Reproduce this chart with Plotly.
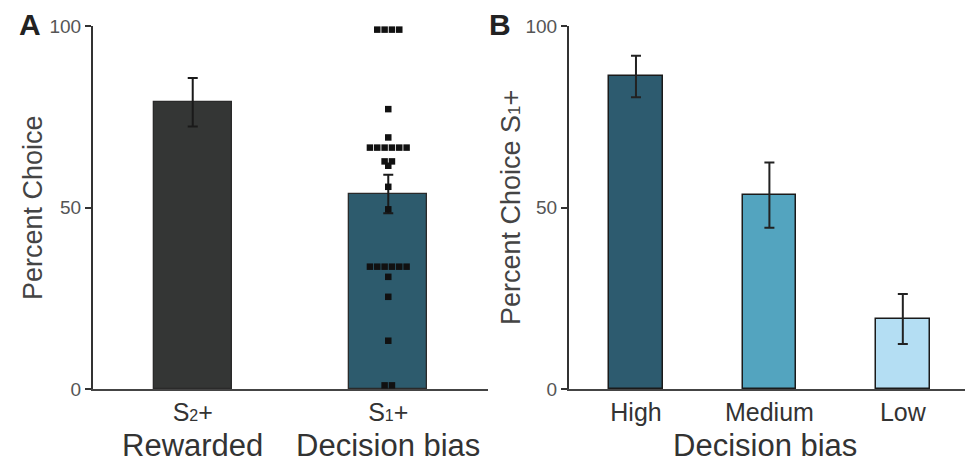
import plotly.graph_objects as go
import numpy as np

# ---------------- data ----------------
a_categories = ["S<span style='font-size:16px'>2</span>+", "S<span style='font-size:16px'>1</span>+"]
a_groups = ["Rewarded", "Decision bias"]
a_means = [79.0, 53.7]
a_errors = [6.7, 5.3]
a_colors = ["#343635", "#2d5b6d"]

# individual points for S1+ (decision bias)
a_points = [99, 99, 99, 99, 77.1, 69.3, 66.5, 66.5, 66.5, 66.5, 66.5, 66.5,
            62.7, 62.7, 61.5, 55.7, 49.5, 33.7, 33.7, 33.7, 33.7, 33.7, 33.7,
            30.9, 25.4, 13.3, 1.0, 1.0]

b_categories = ["High", "Medium", "Low"]
b_means = [86.1, 53.4, 19.3]
b_errors = [5.7, 9.0, 6.9]
b_colors = ["#2d5b6f", "#53a4bf", "#b4def3"]

y_ticks = [0, 50, 100]

# ---------------- layout helpers ----------------
W, H = 965, 462
def px_x(p): return p / W
def px_y(p): return 1 - p / H

FONT = "Liberation Sans, Arial, Helvetica, sans-serif"

fig = go.Figure()

# Panel A bars
fig.add_trace(go.Bar(
    x=[0, 1], y=a_means, width=0.40,
    marker=dict(color=a_colors, line=dict(color="#2a2a2a", width=1.3)),
    error_y=dict(type="data", array=a_errors, color="#1a1a1a", thickness=2, width=5),
    xaxis="x", yaxis="y", showlegend=False,
))

# Beeswarm offsets for points (computed from duplicate values)
pts = np.array(a_points, dtype=float)
spacing = 0.0375
xs = np.zeros_like(pts)
for v in np.unique(pts):
    idx = np.where(pts == v)[0]
    n = len(idx)
    xs[idx] = 1 + (np.arange(n) - (n - 1) / 2) * spacing
fig.add_trace(go.Scatter(
    x=xs, y=pts, mode="markers",
    marker=dict(symbol="square", size=6.5, color="#111111"),
    xaxis="x", yaxis="y", showlegend=False, cliponaxis=False,
))

# Panel B bars
fig.add_trace(go.Bar(
    x=[0, 1, 2], y=b_means, width=0.40,
    marker=dict(color=b_colors, line=dict(color="#1a1a1a", width=1.5)),
    error_y=dict(type="data", array=b_errors, color="#222222", thickness=2, width=5),
    xaxis="x2", yaxis="y2", showlegend=False,
))

y_dom = [px_y(389), px_y(26)]
common_y = dict(
    range=[0, 100], tickvals=y_ticks, ticktext=[str(t) for t in y_ticks],
    showgrid=False, zeroline=False, showline=True, linecolor="#333333", linewidth=2,
    ticks="outside", ticklen=6, tickwidth=1.5, tickcolor="#333333",
    tickfont=dict(family=FONT, size=19, color="#555555"),
    domain=y_dom, automargin=False,
)
common_x = dict(
    showgrid=False, zeroline=False, showline=True, linecolor="#444444", linewidth=2,
    ticks="", tickfont=dict(family=FONT, size=25, color="#333333"), automargin=False,
)

fig.update_layout(
    width=W, height=H,
    margin=dict(l=0, r=0, t=0, b=0),
    paper_bgcolor="white", plot_bgcolor="white",
    font=dict(family=FONT),
    bargap=0,
    xaxis=dict(domain=[px_x(93), px_x(488)], range=[-0.51, 1.51],
               tickvals=[0, 1], ticktext=a_categories, anchor="y", **common_x),
    yaxis=dict(anchor="x", **common_y),
    xaxis2=dict(domain=[px_x(569), 1.0], range=[-0.502, 2.466],
                tickvals=[0, 1, 2], ticktext=b_categories, anchor="y2", **common_x),
    yaxis2=dict(anchor="x2", **common_y),
)

ann = []
# category group labels panel A
for i, g in enumerate(a_groups):
    ann.append(dict(x=i, y=px_y(445), xref="x", yref="paper", text=g, showarrow=False,
                    font=dict(family=FONT, size=31, color="#333333"),
                    xanchor="center", yanchor="middle"))
# panel B x title
ann.append(dict(x=px_x(765), y=px_y(445), xref="paper", yref="paper", text="Decision bias",
                showarrow=False, font=dict(family=FONT, size=31, color="#333333"),
                xanchor="center", yanchor="middle"))
# y titles
ann.append(dict(x=px_x(33), y=px_y(208), xref="paper", yref="paper", text="Percent Choice",
                textangle=-90, showarrow=False, font=dict(family=FONT, size=27, color="#444444"),
                xanchor="center", yanchor="middle"))
ann.append(dict(x=px_x(511), y=px_y(208), xref="paper", yref="paper",
                text="Percent Choice S<span style='font-size:17px'>1</span>+",
                textangle=-90, showarrow=False, font=dict(family=FONT, size=27, color="#444444"),
                xanchor="center", yanchor="middle"))
# panel letters
ann.append(dict(x=px_x(29.5), y=px_y(24), xref="paper", yref="paper", text="<b>A</b>",
                showarrow=False, font=dict(family=FONT, size=30, color="#222222"),
                xanchor="center", yanchor="middle"))
ann.append(dict(x=px_x(500), y=px_y(24), xref="paper", yref="paper", text="<b>B</b>",
                showarrow=False, font=dict(family=FONT, size=30, color="#222222"),
                xanchor="center", yanchor="middle"))
fig.update_layout(annotations=ann)

fig.write_html("out.html")
